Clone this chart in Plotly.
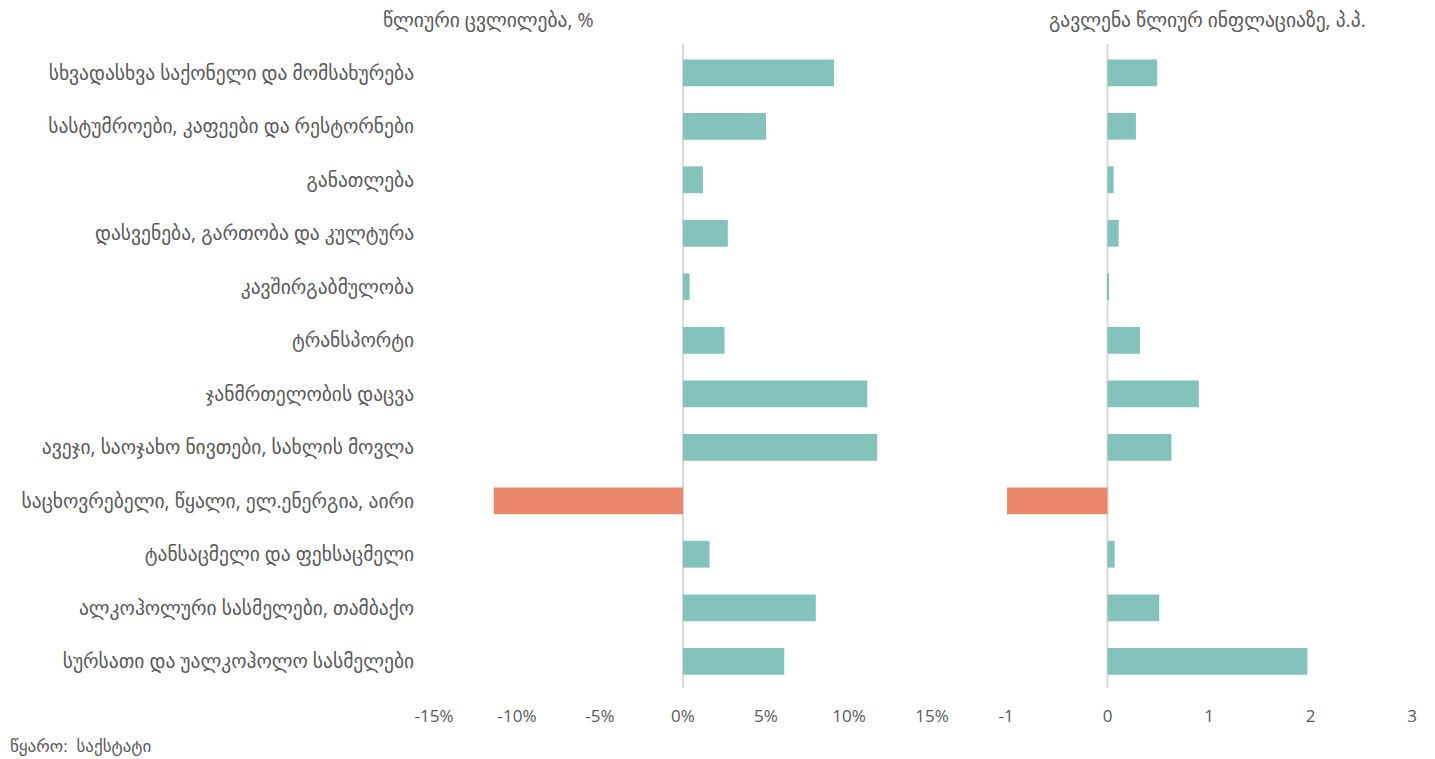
import plotly.graph_objects as go

# Consumer price groups, listed top to bottom
categories = [
    "სხვადასხვა საქონელი და მომსახურება",
    "სასტუმროები, კაფეები და რესტორნები",
    "განათლება",
    "დასვენება, გართობა და კულტურა",
    "კავშირგაბმულობა",
    "ტრანსპორტი",
    "ჯანმრთელობის დაცვა",
    "ავეჯი, საოჯახო ნივთები, სახლის მოვლა",
    "საცხოვრებელი, წყალი, ელ.ენერგია, აირი",
    "ტანსაცმელი და ფეხსაცმელი",
    "ალკოჰოლური სასმელები, თამბაქო",
    "სურსათი და უალკოჰოლო სასმელები",
]
# Annual change, %
annual_change = [9.1, 5.0, 1.2, 2.7, 0.4, 2.5, 11.1, 11.7, -11.4, 1.6, 8.0, 6.1]
# Contribution to annual inflation, percentage points
contribution = [0.49, 0.28, 0.06, 0.11, 0.01, 0.32, 0.90, 0.63, -0.99, 0.07, 0.51, 1.97]

left_ticks = [-15, -10, -5, 0, 5, 10, 15]
left_ticktext = ["-15%", "-10%", "-5%", "0%", "5%", "10%", "15%"]
right_ticks = [-1, 0, 1, 2, 3]
right_ticktext = ["-1", "0", "1", "2", "3"]

title_left = "წლიური ცვლილება, %"
title_right = "გავლენა წლიურ ინფლაციაზე, პ.პ."
source_text = "წყარო:  საქსტატი"

TEAL = "#84C3BB"
ORANGE = "#EB886C"
GREY = "#595959"
FONT = "Open Sans, DejaVu Sans, sans-serif"
GEO_SIZE = 19.5

W, H = 1435, 759


def colors(vals):
    return [ORANGE if v < 0 else TEAL for v in vals]


fig = go.Figure()
fig.add_trace(go.Bar(
    y=categories, x=annual_change, orientation="h",
    marker=dict(color=colors(annual_change), line=dict(width=0)),
    xaxis="x", yaxis="y", showlegend=False,
))
fig.add_trace(go.Bar(
    y=categories, x=contribution, orientation="h",
    marker=dict(color=colors(contribution), line=dict(width=0)),
    xaxis="x2", yaxis="y2", showlegend=False,
))

y_dom = [(H - 688) / H, (H - 46) / H]

fig.update_layout(
    width=W, height=H,
    margin=dict(l=0, r=0, t=0, b=0),
    paper_bgcolor="white", plot_bgcolor="white",
    bargap=0.5,
    font=dict(family=FONT, color=GREY, size=17),
    xaxis=dict(
        domain=[434 / W, 932 / W], range=[-15, 15],
        tickvals=left_ticks, ticktext=left_ticktext,
        showgrid=False, zeroline=False, showline=False,
        ticks="outside", ticklen=13, tickcolor="rgba(0,0,0,0)",
        tickfont=dict(size=17, color=GREY), automargin=False,
        anchor="y",
    ),
    yaxis=dict(
        domain=y_dom, autorange="reversed", type="category",
        showgrid=False, zeroline=False, showline=False,
        ticks="outside", ticklen=15, tickcolor="rgba(0,0,0,0)",
        tickfont=dict(size=GEO_SIZE, color=GREY), automargin=False,
        anchor="x",
    ),
    xaxis2=dict(
        domain=[1006 / W, 1412 / W], range=[-1, 3],
        tickvals=right_ticks, ticktext=right_ticktext,
        showgrid=False, zeroline=False, showline=False,
        ticks="outside", ticklen=13, tickcolor="rgba(0,0,0,0)",
        tickfont=dict(size=17, color=GREY), automargin=False,
        anchor="y2",
    ),
    yaxis2=dict(
        domain=y_dom, autorange="reversed", type="category",
        showgrid=False, zeroline=False, showline=False,
        showticklabels=False, automargin=False,
        anchor="x2",
    ),
    shapes=[
        dict(type="line", xref="x", yref="paper", x0=0, x1=0,
             y0=y_dom[0], y1=y_dom[1] + 2 / H,
             line=dict(color="#D9D9D9", width=2), layer="below"),
        dict(type="line", xref="x2", yref="paper", x0=0, x1=0,
             y0=y_dom[0], y1=y_dom[1] + 2 / H,
             line=dict(color="#D9D9D9", width=2), layer="below"),
    ],
    annotations=[
        dict(text=title_left, x=488 / W, y=1 - 19 / H, xref="paper", yref="paper",
             xanchor="center", yanchor="middle", showarrow=False,
             font=dict(size=GEO_SIZE, color=GREY)),
        dict(text=title_right, x=1207 / W, y=1 - 19 / H, xref="paper", yref="paper",
             xanchor="center", yanchor="middle", showarrow=False,
             font=dict(size=GEO_SIZE, color=GREY)),
        dict(text=source_text, x=8 / W, y=1 - 745 / H, xref="paper", yref="paper",
             xanchor="left", yanchor="middle", showarrow=False,
             font=dict(size=17, color=GREY)),
    ],
)

fig.write_html("out.html")
